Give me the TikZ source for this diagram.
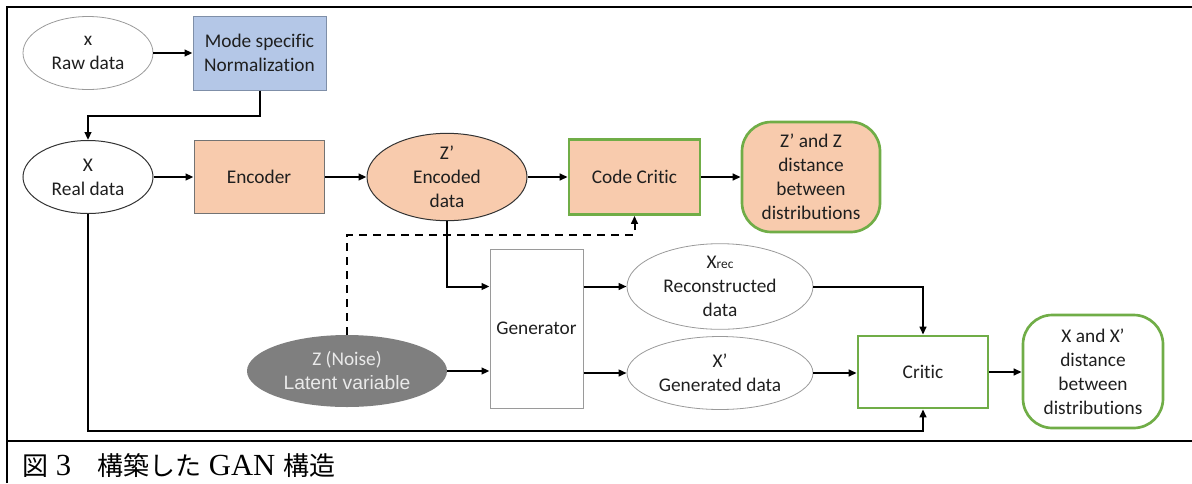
\documentclass[tikz,border=0pt]{standalone}
\usepackage{fontspec}
\setmainfont{Carlito}[Ligatures=NoCommon]
\newfontfamily\arialf{Liberation Sans}
\newfontfamily\timesf{Liberation Serif}
\newfontfamily\cjk{Noto Sans CJK JP}
\usetikzlibrary{arrows.meta,shapes.geometric}
\definecolor{blueF}{HTML}{B4C7E7}
\definecolor{blueD}{HTML}{7F8FA8}
\definecolor{peach}{HTML}{F8CBAD}
\definecolor{gborder}{HTML}{70AD47}
\definecolor{txt}{HTML}{1F1F1F}
\definecolor{noiseF}{HTML}{7F7F7F}
\definecolor{noiseT}{HTML}{EAEAEA}
\definecolor{thin}{HTML}{9A9A9A}
\newcommand\jp[1]{{\cjk\fontsize{19.5}{21}\selectfont #1}}
\begin{document}
\begin{tikzpicture}[x=0.75pt,y=-0.75pt,
  every node/.style={font=\fontsize{14.5}{18}\selectfont, text=txt, align=center, inner sep=0pt},
  ell/.style={ellipse, draw=thin, line width=0.6pt},
  boxn/.style={rectangle, draw, line width=0.75pt},
  gbox/.style={rectangle, draw=gborder, line width=2pt},
  arr/.style={line width=1.5pt, -{Triangle[length=6pt,width=5pt]}},
  dasharr/.style={arr, dash pattern=on 6pt off 4.5pt},
  frame/.style={line width=1.5pt}
  ]
\useasboundingbox (0,0) rectangle (1192,483);
\draw[frame] (7,483) -- (7,7) -- (1192,7);
\draw[frame] (7,441) -- (1192,441);

\node[ell, minimum width=97.5pt, minimum height=54.75pt] (raw) at (88,53) {x\\Raw data};
\node[boxn, draw=blueD, fill=blueF, minimum width=99.75pt, minimum height=55.5pt] (norm) at (259.5,53) {Mode specific\\Normalization};
\node[ell, draw=black!80, line width=0.75pt, minimum width=97.5pt, minimum height=54.75pt] (real) at (88,177) {X\\Real data};
\node[boxn, draw=black!55, fill=peach, minimum width=97.5pt, minimum height=54.75pt] (enc) at (259,177) {Encoder};
\node[ell, draw=black!80, line width=0.75pt, fill=peach, minimum width=120pt, minimum height=54.75pt] (zp) at (447,177) {Z’\\Encoded\\data};
\node[gbox, fill=peach, minimum width=98.25pt, minimum height=56.25pt] (cc) at (634.5,177) {Code Critic};
\node[gbox, rounded corners=22pt, fill=peach, minimum width=103.5pt, minimum height=82.5pt] (zz) at (811,177) {Z’ and Z\\distance\\between\\distributions};
\node[boxn, draw=thin, minimum width=69.75pt, minimum height=119.25pt] (gen) at (536.5,328.5) {Generator};
\node[ellipse, fill=noiseF, text=noiseT, minimum width=150pt, minimum height=54pt] (noise) at (347,371) {Z (Noise)\\{\arialf Latent variable}};
\node[ell, minimum width=139.5pt, minimum height=54.75pt] (xrec) at (720,286.5) {X{\fontsize{10}{10}\selectfont rec}\\Reconstructed\\data};
\node[ell, minimum width=139.5pt, minimum height=54.75pt] (xp) at (720,373) {X’\\Generated data};
\node[gbox, fill=white, minimum width=97.5pt, minimum height=54pt] (critic) at (923,372) {Critic};
\node[gbox, rounded corners=22pt, minimum width=105pt, minimum height=84.75pt] (xx) at (1093,371.5) {X and X’\\distance\\between\\distributions};

\draw[arr] (raw.east) -- (norm.west);
\draw[arr] (norm.south) -- ++(0,25) -| (real.north);
\draw[arr] (real.east) -- (enc.west);
\draw[arr] (enc.east) -- (zp.west);
\draw[arr] (zp.east) -- (cc.west);
\draw[arr] (cc.east) -- (zz.west);
\draw[arr] (zp.south) |- (gen.west |- xrec.west);
\draw[dasharr] (noise.north) -- ++(0,-100) -| (cc.south);
\draw[arr] (noise.east) -- (noise.east -| gen.west);
\draw[arr] (gen.east |- xrec.west) -- (xrec.west);
\draw[arr] (gen.east |- xp.west) -- (xp.west);
\draw[arr] (xrec.east) -| (critic.north);
\draw[arr] (xp.east) -- (xp.east -| critic.west);
\draw[arr] (real.south) -- ++(0,217) -| (critic.south);
\draw[arr] (critic.east) -- (critic.east -| xx.west);

\node[anchor=base west, font=\fontsize{23}{25}\selectfont\timesf, text=black] (cap) at (22,475)
  {\jp{図} 3\jp{　構築した} GAN \jp{構造}};
\end{tikzpicture}
\end{document}
